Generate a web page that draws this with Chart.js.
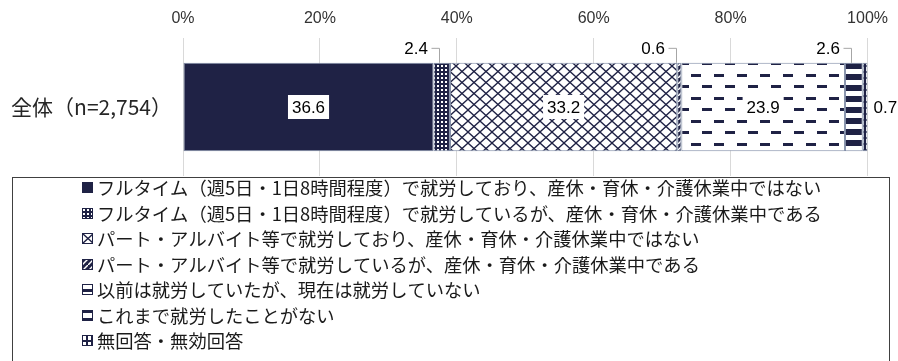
<!DOCTYPE html>
<html><head><meta charset="utf-8">
<script src="https://cdn.jsdelivr.net/npm/chart.js@4/dist/chart.umd.min.js"></script>
<style>html,body{margin:0;padding:0;background:#fff;overflow:hidden}#wrap{position:relative;width:898px;height:361px}</style>
</head><body><div id="wrap"><canvas id="c" width="898" height="361"></canvas></div>
<script>
const categories = ['全体（n=2,754）'];
const seriesNames = [
  'フルタイム（週5日・1日8時間程度）で就労しており、産休・育休・介護休業中ではない',
  'フルタイム（週5日・1日8時間程度）で就労しているが、産休・育休・介護休業中である',
  'パート・アルバイト等で就労しており、産休・育休・介護休業中ではない',
  'パート・アルバイト等で就労しているが、産休・育休・介護休業中である',
  '以前は就労していたが、現在は就労していない',
  'これまで就労したことがない',
  '無回答・無効回答'
];
const seriesValues = [[36.6],[2.4],[33.2],[0.6],[23.9],[2.6],[0.7]];
const xTickValues = [0,20,40,60,80,100];

const NAVY = '#1f2245';
const JP = '"Noto Sans CJK JP", "Noto Sans", sans-serif';
const LAT = '"Liberation Sans", Arial, sans-serif';

function tile(w,h,draw){
  const c=document.createElement('canvas'); c.width=w; c.height=h;
  const g=c.getContext('2d'); draw(g,w,h);
  return document.getElementById('c').getContext('2d').createPattern(c,'repeat');
}
const fills = [
  NAVY,
  tile(4,4,(g)=>{g.fillStyle=NAVY;g.fillRect(0,0,4,4);g.fillStyle='#fff';g.fillRect(1,1,2,2);}),
  tile(12,11,(g)=>{g.fillStyle='#fff';g.fillRect(0,0,12,11);g.strokeStyle=NAVY;g.lineWidth=1.3;
      g.beginPath();g.moveTo(0,0);g.lineTo(12,11);g.moveTo(12,0);g.lineTo(0,11);g.stroke();}),
  tile(6,6,(g)=>{g.fillStyle=NAVY;g.fillRect(0,0,6,6);g.strokeStyle='#fff';g.lineWidth=1.5;
      g.beginPath();g.moveTo(-1,7);g.lineTo(7,-1);g.stroke();}),
  tile(23,23,(g)=>{g.fillStyle='#fff';g.fillRect(0,0,23,23);g.fillStyle=NAVY;
      g.fillRect(1,5,10,3);g.fillRect(12,16,10,3);}),
  tile(4,11,(g)=>{g.fillStyle=NAVY;g.fillRect(0,0,4,11);g.fillStyle='#fff';g.fillRect(0,3,4,5);}),
  tile(5,6,(g)=>{g.fillStyle=NAVY;g.fillRect(0,0,5,6);g.fillStyle='#fff';g.fillRect(1,1,3,4);})
];

const valueLabels = {
  id:'valueLabels',
  afterDatasetsDraw(chart){
    const ctx=chart.ctx; const last=chart.data.datasets.length-1;
    chart.data.datasets.forEach((ds,i)=>{
      const meta=chart.getDatasetMeta(i);
      meta.data.forEach((el,j)=>{
        const v=ds.data[j]; const txt=v.toFixed(1);
        const left=Math.min(el.x,el.base), right=Math.max(el.x,el.base);
        const cx=(left+right)/2, cy=el.y, top=el.y-el.height/2;
        ctx.save();
        ctx.font='17px '+LAT; ctx.fillStyle='#000'; ctx.textBaseline='middle';
        if(v>=5){
          const w=ctx.measureText(txt).width+8;
          ctx.fillStyle='#fff'; ctx.fillRect(cx-w/2,cy-12,w,24);
          ctx.fillStyle='#000'; ctx.textAlign='center'; ctx.fillText(txt,cx,cy+1);
        } else if(i===last){
          ctx.textAlign='left'; ctx.fillText(txt,right+6,cy+1);
        } else {
          const ly=top-15; const lx=Math.round(cx-3);
          ctx.strokeStyle='#a6a6a6'; ctx.lineWidth=1;
          ctx.beginPath(); ctx.moveTo(lx-7.5,ly+0.5); ctx.lineTo(lx+0.5,ly+0.5); ctx.lineTo(lx+0.5,top); ctx.stroke();
          ctx.textAlign='right'; ctx.fillText(txt,lx-11,ly+1);
        }
        ctx.restore();
      });
    });
  }
};

const boxLegend = {
  id:'boxLegend',
  afterDraw(chart){
    const ctx=chart.ctx;
    ctx.save();
    ctx.fillStyle='#fff'; ctx.fillRect(12,177,878,190);
    ctx.strokeStyle='#404040'; ctx.lineWidth=1; ctx.strokeRect(12.5,177.5,877,200);
    ctx.font='18.3px '+JP; ctx.textBaseline='middle'; ctx.textAlign='left';
    chart.data.datasets.forEach((ds,i)=>{
      const y=Math.round(187+i*25.5);
      ctx.save(); ctx.translate(82,y-5);
      ctx.fillStyle=ds.backgroundColor; ctx.fillRect(0,0,11,11);
      ctx.strokeStyle=NAVY; ctx.strokeRect(0.5,0.5,10,10);
      ctx.restore();
      ctx.fillStyle='#1a1a1a'; ctx.fillText(ds.label,97,y+1);
    });
    ctx.restore();
  }
};

new Chart(document.getElementById('c'),{
  type:'bar',
  data:{
    labels:categories,
    datasets:seriesNames.map((n,i)=>({
      label:n, data:seriesValues[i], backgroundColor:fills[i],
      borderColor:'#7f8ba5', borderWidth:1, borderSkipped:false,
      barPercentage:0.64, categoryPercentage:1
    }))
  },
  options:{
    responsive:false, animation:false, indexAxis:'y',
    layout:{padding:{left:0,right:29,top:0,bottom:185}},
    plugins:{legend:{display:false},tooltip:{enabled:false}},
    scales:{
      x:{position:'top',stacked:true,min:0,max:100,
        afterBuildTicks(s){s.ticks=xTickValues.map(v=>({value:v}));},
        ticks:{callback:v=>v+'%',font:{family:LAT,size:16},color:'#333',padding:10,maxRotation:0,autoSkip:false},
        grid:{color:'#d9d9d9',drawTicks:false},border:{display:false},
        afterFit(s){s.height=38;}},
      y:{stacked:true,
        ticks:{font:{family:JP,size:21},color:'#262626',padding:3},
        grid:{display:false},border:{display:false},
        afterFit(s){s.width=183;}}
    }
  },
  plugins:[valueLabels,boxLegend]
});
</script></body></html>
